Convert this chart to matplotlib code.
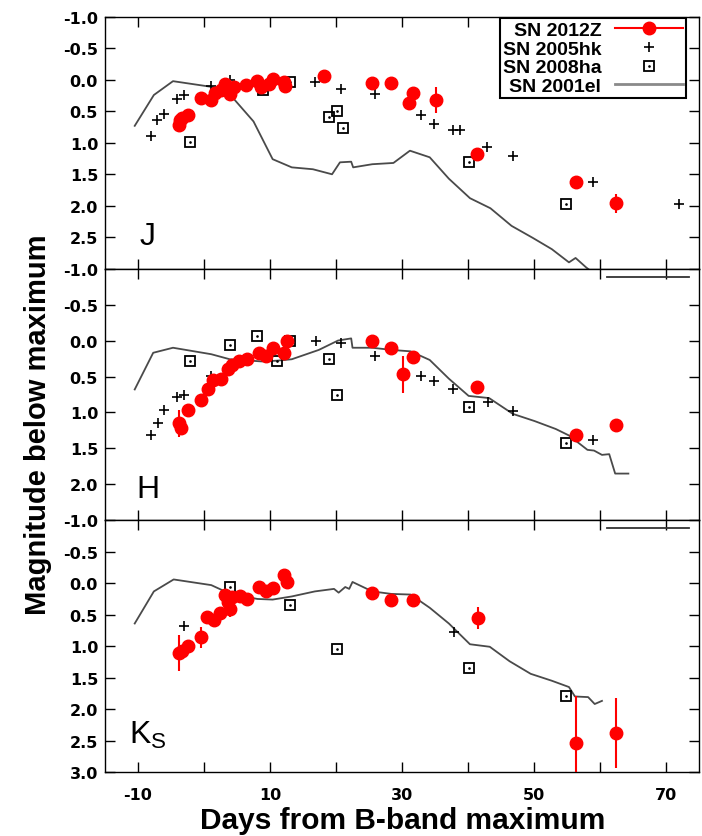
import numpy as np
import matplotlib.pyplot as plt
from matplotlib.lines import Line2D
from matplotlib.legend_handler import HandlerTuple

plt.rcParams['font.family'] = ['Liberation Sans', 'DejaVu Sans']

# ---- J band ----
j_01el_t = [-10.5, -7.6, -4.7, 1.1, 4.0, 7.5, 10.4, 13.3, 16.5, 19.4, 20.6, 22.3, 22.6, 25.5,
            28.7, 31.2, 34.2, 37.1, 40.3, 43.4, 46.6, 49.8, 52.7, 55.3, 56.3, 57.9, 60.0]
j_01el_m = [0.73, 0.24, 0.02, 0.11, 0.24, 0.66, 1.26, 1.39, 1.42, 1.50, 1.31, 1.30, 1.39, 1.34,
            1.32, 1.125, 1.23, 1.57, 1.88, 2.04, 2.32, 2.51, 2.69, 2.90, 2.83, 2.98, 3.15]
j_05hk_t = [-8.1, -7.1, -6.1, -4.1, -3.0, 1.0, 3.9, 16.8, 20.8, 25.9, 32.9, 34.9, 37.7, 38.8,
            42.9, 46.8, 58.9, 71.9]
j_05hk_m = [0.89, 0.64, 0.54, 0.31, 0.24, 0.10, 0.0, 0.03, 0.14, 0.22, 0.55, 0.70, 0.80, 0.80,
            1.07, 1.21, 1.63, 1.98]
j_08ha_t = [-2.1, 9.0, 13.0, 19.0, 20.1, 21.0, 40.1, 54.9]
j_08ha_m = [0.98, 0.16, 0.04, 0.59, 0.50, 0.76, 1.31, 1.98]
j_12z_t = [-3.8, -3.7, -3.3, -2.5, -0.5, 1.1, 1.7, 2.6, 3.2, 4.0, 4.6, 6.3, 8.1, 8.7, 9.8, 10.5,
           12.1, 12.3, 18.2, 25.5, 28.4, 31.6, 31.1, 35.2, 41.4, 56.4, 62.5]
j_12z_m = [0.71, 0.63, 0.60, 0.56, 0.29, 0.32, 0.21, 0.16, 0.07, 0.23, 0.11, 0.08, 0.02, 0.11,
           0.07, -0.01, 0.03, 0.10, -0.06, 0.05, 0.05, 0.21, 0.37, 0.32, 1.18, 1.63, 1.96]
j_12z_e = [0.05, 0.04, 0.04, 0.04, 0.03, 0.03, 0.03, 0.03, 0.03, 0.03, 0.03, 0.03, 0.03, 0.03,
           0.03, 0.03, 0.03, 0.03, 0.03, 0.03, 0.03, 0.04, 0.04, 0.21, 0.05, 0.10, 0.15]

# ---- H band ----
h_01el_t = [-10.5, -7.7, -4.7, 1.1, 3.9, 8.7, 11.0, 13.3, 17.4, 20.3, 22.3, 22.5, 25.5, 28.4,
            31.3, 34.2, 37.1, 40.1, 43.2, 46.8, 50.1, 53.3, 55.3, 58.1, 59.1, 60.3, 61.4, 62.3, 64.3]
h_01el_m = [0.68, 0.17, 0.10, 0.19, 0.26, 0.29, 0.28, 0.26, 0.13, 0.0, -0.03, 0.10, 0.10, 0.13,
            0.15, 0.27, 0.53, 0.77, 0.80, 1.02, 1.12, 1.23, 1.32, 1.52, 1.53, 1.59, 1.58, 1.85, 1.85]
h_05hk_t = [-8.1, -7.0, -6.0, -4.1, -3.0, 1.0, 13.0, 17.0, 20.8, 25.9, 32.9, 34.9, 37.8, 43.0,
            46.8, 58.9]
h_05hk_m = [1.32, 1.15, 0.97, 0.79, 0.76, 0.49, 0.0, 0.0, 0.04, 0.22, 0.49, 0.56, 0.68, 0.85,
            0.98, 1.39]
h_08ha_t = [-2.1, 3.9, 8.0, 11.0, 13.1, 19.0, 20.1, 40.1, 54.9]
h_08ha_m = [0.28, 0.06, -0.06, 0.29, 0.0, 0.26, 0.76, 0.93, 1.43]
h_12z_t = [-3.8, -3.5, -2.5, -0.5, 0.55, 1.4, 2.6, 3.6, 4.3, 5.3, 6.5, 8.4, 9.4, 10.5, 12.1,
           12.6, 25.5, 28.4, 31.6, 30.1, 41.4, 56.4, 62.5]
h_12z_m = [1.15, 1.22, 0.97, 0.82, 0.67, 0.55, 0.53, 0.39, 0.34, 0.29, 0.25, 0.18, 0.22, 0.10,
           0.17, 0.0, 0.01, 0.10, 0.23, 0.47, 0.65, 1.31, 1.18]
h_12z_e = [0.19, 0.05, 0.04, 0.04, 0.03, 0.03, 0.03, 0.03, 0.03, 0.03, 0.03, 0.03, 0.03, 0.03,
           0.03, 0.03, 0.03, 0.03, 0.04, 0.26, 0.05, 0.05, 0.05]

# ---- Ks band ----
k_01el_t = [-10.5, -7.6, -4.6, 1.1, 4.0, 8.1, 10.4, 13.3, 16.8, 19.7, 20.4, 21.4, 22.0, 22.5,
            25.5, 28.4, 31.3, 34.2, 37.1, 40.3, 43.3, 46.3, 49.5, 52.7, 55.3, 56.2, 58.2, 59.2, 60.3]
k_01el_m = [0.64, 0.13, -0.06, 0.03, 0.17, 0.25, 0.26, 0.21, 0.13, 0.09, 0.15, 0.06, 0.09, -0.02,
            0.13, 0.17, 0.18, 0.39, 0.64, 0.97, 1.01, 1.24, 1.44, 1.55, 1.65, 1.80, 1.81, 1.92, 1.87]
k_05hk_t = [-3.0, 37.9]
k_05hk_m = [0.68, 0.78]
k_08ha_t = [3.9, 13.1, 20.1, 40.1, 54.9]
k_08ha_m = [0.06, 0.35, 1.04, 1.34, 1.79]
k_12z_t = [-3.8, -3.3, -2.5, -0.5, 0.4, 1.5, 2.4, 3.2, 3.6, 4.0, 4.3, 5.5, 6.5, 8.4, 9.4, 10.5,
           12.1, 12.6, 25.5, 28.4, 31.6, 41.5, 56.4, 62.5]
k_12z_m = [1.11, 1.07, 0.99, 0.86, 0.54, 0.59, 0.48, 0.19, 0.30, 0.41, 0.22, 0.21, 0.25, 0.06,
           0.12, 0.08, -0.13, -0.02, 0.15, 0.26, 0.27, 0.55, 2.54, 2.38]
k_12z_e = [0.28, 0.06, 0.05, 0.17, 0.05, 0.05, 0.05, 0.05, 0.05, 0.12, 0.05, 0.04, 0.04, 0.04,
           0.04, 0.04, 0.04, 0.04, 0.04, 0.04, 0.04, 0.17, 0.75, 0.55]

# stray key-line remnant seen at top right of lower panels
stray_t = [61.0, 73.5]
stray_m = [-0.88, -0.88]

bands = [
    ('J', (-1.0, 3.0), np.arange(-1.0, 2.51, 0.5),
     (j_01el_t, j_01el_m), (j_05hk_t, j_05hk_m), (j_08ha_t, j_08ha_m), (j_12z_t, j_12z_m, j_12z_e)),
    ('H', (-1.0, 2.5), np.arange(-1.0, 2.01, 0.5),
     (h_01el_t, h_01el_m), (h_05hk_t, h_05hk_m), (h_08ha_t, h_08ha_m), (h_12z_t, h_12z_m, h_12z_e)),
    ('K$_\\mathregular{S}$', (-1.0, 3.0), np.arange(-1.0, 3.01, 0.5),
     (k_01el_t, k_01el_m), (k_05hk_t, k_05hk_m), (k_08ha_t, k_08ha_m), (k_12z_t, k_12z_m, k_12z_e)),
]
label_y = [0.13, 0.125, 0.15]

fig, axes = plt.subplots(3, 1, figsize=(7.02, 8.37), dpi=100, sharex=True)
fig.subplots_adjust(left=0.1496, right=0.9957, top=0.9785, bottom=0.0765, hspace=0)

tick_font = dict(family='DejaVu Sans', weight='bold', size=11.5)

for i, (ax, band) in enumerate(zip(axes, bands)):
    name, ylim, yt, el, hk, ha, z = band
    ax.plot(el[0], el[1], color='#4a4a4a', lw=1.3, zorder=2)
    ax.plot(hk[0], hk[1], '+', color='black', ms=7, mew=1.2, zorder=3)
    ax.plot(ha[0], ha[1], 's', mfc='none', mec='black', ms=6.5, mew=1.3, zorder=3)
    ax.plot(ha[0], ha[1], '.', color='black', ms=1.8, zorder=3)
    ax.errorbar(z[0], z[1], yerr=z[2], fmt='o', color='red', ms=9, mec='red',
                elinewidth=1.5, capsize=0, zorder=4)
    if i > 0:
        ax.plot(stray_t, stray_m, color='#333333', lw=1.3, zorder=2, clip_on=False)

    ax.set_xlim(-15, 75)
    ax.set_ylim(ylim[1], ylim[0])
    ax.set_yticks(yt)
    ax.set_yticklabels(['%.1f' % v for v in yt], fontdict=tick_font)
    ax.set_xticks([-10, 10, 30, 50, 70])
    ax.set_xticks([0, 20, 40, 60], minor=True)
    ax.tick_params(which='both', direction='in', top=True, right=True, length=7, width=1.0)
    ax.tick_params(axis='y', pad=5)
    ax.tick_params(axis='x', pad=11)
    for s in ax.spines.values():
        s.set_linewidth(1.0)
    ax.text(0.072, label_y[i], name, transform=ax.transAxes, fontsize=23,
            ha='center', va='center')

axes[2].set_xticklabels(['-10', '10', '30', '50', '70'], fontdict=tick_font)

h_z = Line2D([], [], color='red', marker='o', ms=9, lw=1.5)
h_hk = Line2D([], [], color='black', marker='+', ms=7, mew=1.2, ls='none')
h_ha1 = Line2D([], [], marker='s', mfc='none', mec='black', ms=6.5, mew=1.3, ls='none')
h_ha2 = Line2D([], [], marker='.', color='black', ms=1.8, ls='none')
h_el = Line2D([], [], color='#8a8a8a', lw=2.0)
leg = axes[0].legend([h_z, h_hk, (h_ha1, h_ha2), h_el],
                     ['SN 2012Z', 'SN 2005hk', 'SN 2008ha', 'SN 2001el'],
                     handler_map={tuple: HandlerTuple(ndivide=1, pad=0)},
                     loc='upper right', bbox_to_anchor=(0.978, 0.995), borderaxespad=0,
                     markerfirst=False, fancybox=False, framealpha=1, edgecolor='black',
                     prop=dict(size=14, weight='bold'), labelspacing=0.06,
                     handlelength=3.5, handletextpad=0.7, borderpad=0.15)
leg.get_frame().set_linewidth(1.5)

fig.text(0.054, 0.492, 'Magnitude below maximum', rotation=90, ha='center', va='center',
         fontsize=21, weight='bold')
fig.text(0.573, 0.019, 'Days from B-band maximum', ha='center', va='center',
         fontsize=21.5, weight='bold')

fig.savefig('out.png', dpi=100)
